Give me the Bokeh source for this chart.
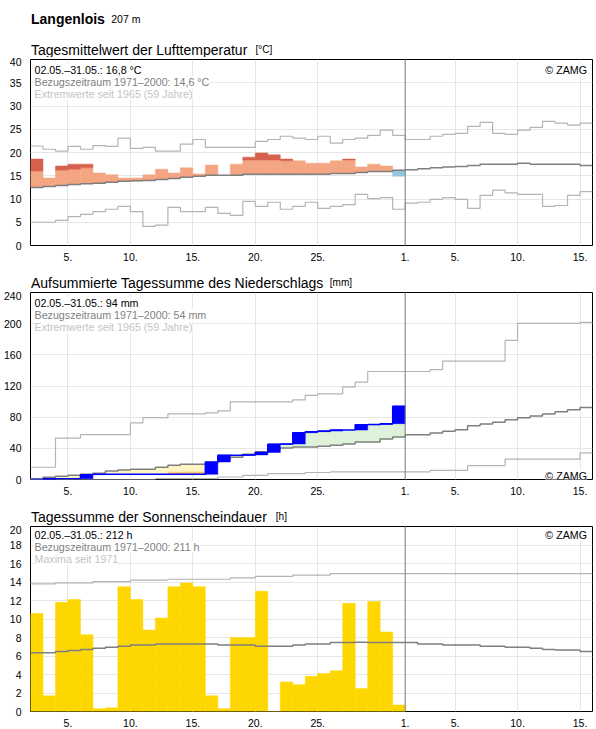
import numpy as np
from bokeh.plotting import figure
from bokeh.layouts import column
from bokeh.models import Range1d, FixedTicker, Span, Label
from bokeh.core.properties import value
from bokeh.embed import file_html
from bokeh.resources import INLINE

FONT = "Liberation Sans"
W = 596
LEFT, RIGHT = 30, 4

# ---------------------------------------------------------------------------
# Time axis: 2..31 = 2.-31. May, 32..46 = 1.-15. June (one unit per day)
# ---------------------------------------------------------------------------
days_may = list(range(2, 32))
days_all = list(range(2, 47))
x_ticks = [5, 10, 15, 20, 25, 32, 36, 41, 46]
x_tick_labels = ["5.", "10.", "15.", "20.", "25.", "1.", "5.", "10.", "15."]
month_break = 32

# --- air temperature, daily mean [°C] -------------------------------------
temp_obs = [18.6, 14.5, 17.1, 17.5, 17.5, 15.6, 15.2, 14.5, 14.5, 15.2,
            16.4, 15.6, 16.7, 15.4, 17.3, 15.1, 17.5, 19.0, 19.9, 19.5,
            18.6, 18.2, 17.7, 17.7, 18.2, 18.6, 16.9, 17.5, 17.1, 14.9]
temp_mean = [12.5, 12.7, 12.9, 13.1, 13.3, 13.4, 13.6, 13.8, 13.9, 14.0,
             14.2, 14.4, 14.7, 14.9, 15.1, 15.1, 15.1, 15.3, 15.3, 15.3,
             15.3, 15.3, 15.3, 15.3, 15.5, 15.5, 15.7, 15.9, 15.9, 16.2,
             16.3, 16.5, 16.7, 16.9, 17.0, 17.2, 17.5, 17.5, 17.5, 17.7,
             17.5, 17.5, 17.5, 17.5, 17.2]
temp_max = [21.4, 20.7, 20.3, 21.3, 20.7, 21.5, 21.3, 23.1, 20.9, 21.1,
            20.3, 20.3, 21.8, 22.8, 21.1, 21.1, 21.1, 21.1, 22.4, 22.8,
            23.5, 23.1, 22.8, 23.5, 22.0, 22.8, 23.1, 23.7, 24.8, 23.7,
            22.8, 22.8, 23.5, 23.9, 24.1, 25.6, 26.5, 24.1, 23.9, 24.8,
            25.4, 26.7, 26.3, 25.9, 26.3]
temp_min = [5.0, 5.0, 5.4, 6.2, 6.7, 7.3, 7.8, 8.4, 7.3, 4.1,
            4.4, 8.2, 7.3, 7.3, 8.2, 6.9, 6.5, 9.5, 8.4, 9.3,
            7.8, 8.4, 9.3, 8.0, 8.4, 8.8, 11.0, 10.1, 10.3, 7.8,
            9.1, 9.3, 9.9, 10.3, 9.9, 8.0, 10.8, 11.9, 11.3, 11.0,
            11.0, 8.4, 8.6, 10.8, 11.6]
# days warmer than the normal band, and the upper edge of that band
temp_warm_days = [2, 4, 5, 6, 19, 20, 21, 22, 27]
temp_warm_edge = [16.0, 16.2, 16.4, 16.7, 18.4, 18.4, 18.4, 18.2, 18.4]

# --- precipitation, accumulated [mm] --------------------------------------
precip_obs = [0.0, 1.0, 1.0, 1.0, 6.2, 6.6, 6.6, 6.6, 6.6, 6.6,
              6.6, 6.6, 6.6, 6.6, 22.5, 31.2, 31.2, 31.6, 34.7, 45.4,
              45.6, 60.1, 61.4, 62.2, 63.5, 63.5, 70.4, 70.6, 71.7, 94.0]
precip_mean = [1.0, 2.8, 4.1, 5.4, 6.7, 8.0, 11.0, 12.3, 13.1, 13.1,
               15.7, 18.3, 19.6, 19.6, 20.9, 26.0, 28.6, 32.5, 35.5, 38.1,
               40.3, 41.6, 41.6, 42.8, 44.1, 45.5, 48.0, 48.0, 51.9, 54.5,
               57.5, 57.5, 59.6, 61.8, 63.9, 69.1, 71.2, 73.4, 76.8, 79.4,
               81.6, 84.2, 86.8, 89.4, 92.4]
precip_max = [15.7, 15.7, 53.2, 53.2, 57.5, 57.5, 57.5, 57.5, 72.6, 79.4,
              79.4, 84.2, 84.2, 84.2, 85.5, 88.1, 99.7, 99.7, 99.7, 99.7,
              99.7, 102.3, 108.0, 110.0, 110.0, 118.8, 125.1, 138.6, 138.6, 138.6,
              138.6, 138.6, 141.0, 151.8, 151.8, 151.8, 151.8, 151.8, 178.5, 200.4,
              200.4, 200.4, 200.4, 200.4, 201.7]
precip_min = [0.0, 0.0, 0.0, 0.0, 0.0, 0.0, 0.0, 0.0, 0.0, 0.0,
              1.2, 1.2, 1.2, 1.2, 1.2, 3.2, 3.2, 5.4, 5.4, 7.5,
              7.5, 7.5, 9.0, 9.0, 9.7, 9.7, 9.7, 9.7, 9.7, 9.7,
              9.7, 9.7, 11.8, 11.8, 11.8, 17.8, 17.8, 17.8, 26.1, 26.1,
              26.1, 26.1, 26.1, 26.1, 34.2]
# days drier than the normal band, and the lower edge of that band
precip_dry_days = [13, 14, 15]
precip_dry_edge = [9.4, 9.6, 9.6]

# --- sunshine duration, daily total [h] -----------------------------------
sun_obs = [10.6, 1.7, 11.8, 12.1, 8.3, 0.3, 0.4, 13.5, 12.1, 8.8,
           10.1, 13.5, 13.9, 13.5, 1.7, 0.3, 8.0, 8.0, 13.0, 0.0,
           3.2, 2.9, 3.8, 4.1, 4.4, 11.7, 2.5, 11.9, 8.6, 0.7]
sun_mean = [6.35, 6.35, 6.5, 6.6, 6.7, 6.85, 6.95, 7.05, 7.2, 7.2,
            7.3, 7.3, 7.3, 7.3, 7.3, 7.2, 7.2, 7.2, 7.05, 7.05,
            7.05, 7.2, 7.3, 7.3, 7.45, 7.45, 7.5, 7.45, 7.45, 7.45,
            7.45, 7.3, 7.3, 7.2, 7.2, 7.2, 7.05, 7.05, 6.95, 6.95,
            6.85, 6.7, 6.65, 6.65, 6.5]
sun_max = [13.8, 13.8, 13.9, 13.9, 13.9, 14.05, 14.05, 14.05, 14.2, 14.2,
           14.2, 14.3, 14.3, 14.3, 14.3, 14.3, 14.45, 14.45, 14.6, 14.6,
           14.6, 14.75, 14.75, 14.75, 14.9, 14.9, 14.9, 14.9, 14.9, 14.9,
           14.9, 14.9, 14.9, 14.9, 14.9, 14.9, 14.9, 14.9, 14.9, 14.9,
           14.9, 14.9, 14.9, 14.9, 14.9]

# texts
station, altitude = "Langenlois", "207 m"
titles = [("Tagesmittelwert der Lufttemperatur", "[°C]"),
          ("Aufsummierte Tagessumme des Niederschlags", "[mm]"),
          ("Tagessumme der Sonnenscheindauer", "[h]")]
info_temp = ["02.05.\u201331.05.: 16,8 °C", "Bezugszeitraum 1971\u20132000: 14,6 °C",
             "Extremwerte seit 1965 (59 Jahre)"]
info_precip = ["02.05.\u201331.05.: 94 mm", "Bezugszeitraum 1971\u20132000: 54 mm",
               "Extremwerte seit 1965 (59 Jahre)"]
info_sun = ["02.05.\u201331.05.: 212 h", "Bezugszeitraum 1971\u20132000: 211 h",
            "Maxima seit 1971"]
credit = "© ZAMG"

# colours
C_MEAN = "#7f7f7f"
C_EXT = "#b4b4b4"
C_GRID = "#e6e6e6"
INFO_COLORS = ["#000000", "#808080", "#c4c4c4"]


def text_strip(height, items):
    """Axis-less strip for headings; x is in page pixels, y runs downward."""
    p = figure(width=W, height=height,
               x_range=Range1d(LEFT, W - RIGHT), y_range=Range1d(height, 0),
               x_axis_type=None, y_axis_type=None, toolbar_location=None,
               output_backend="svg", min_border_left=LEFT, min_border_right=RIGHT,
               min_border_top=0, min_border_bottom=0)
    p.outline_line_color = None
    p.xgrid.visible = False
    p.ygrid.visible = False
    for x, y, txt, size, style in items:
        p.text(x=[x], y=[y], text=[txt], text_font=value(FONT),
               text_font_size=value(size), text_font_style=style,
               text_color="#000000", text_baseline="alphabetic")
    return p


def panel(frame_h, top, bottom, y_end, y_ticks):
    p = figure(width=W, height=top + frame_h + bottom,
               x_range=Range1d(2, 47), y_range=Range1d(0, y_end),
               toolbar_location=None, output_backend="svg",
               min_border_left=LEFT, min_border_right=RIGHT,
               min_border_top=top, min_border_bottom=bottom)
    p.outline_line_color = "#000000"
    p.outline_line_width = 1
    p.xaxis.ticker = FixedTicker(ticks=x_ticks)
    p.xaxis.major_label_overrides = dict(zip(x_ticks, x_tick_labels))
    p.yaxis.ticker = FixedTicker(ticks=y_ticks)
    p.xgrid.ticker = FixedTicker(ticks=x_ticks)
    p.ygrid.ticker = FixedTicker(ticks=y_ticks)
    for ax in (p.xaxis, p.yaxis):
        ax.axis_line_color = None
        ax.major_tick_line_color = None
        ax.minor_tick_line_color = None
        ax.major_label_text_font = FONT
        ax.major_label_text_font_size = "10.5px"
        ax.major_label_text_color = "#000000"
    p.xaxis.major_label_standoff = 1
    p.yaxis.major_label_standoff = 3
    p.xgrid.grid_line_color = C_GRID
    p.ygrid.grid_line_color = C_GRID
    p.add_layout(Span(location=month_break, dimension="height",
                      line_color=C_MEAN, line_width=1))
    return p


def step_line(p, days, vals, color, width):
    xs = list(days) + [days[-1] + 1]
    ys = list(vals) + [vals[-1]]
    p.step(xs, ys, mode="after", line_color=color, line_width=width)


def info_block(p, frame_h, lines, credit_on_top=True):
    for i, (txt, col) in enumerate(zip(lines, INFO_COLORS)):
        p.add_layout(Label(x=4, y=frame_h - 10.0 - 12.3 * i, x_units="screen", y_units="screen",
                           text=txt, text_font=FONT, text_font_size="10.7px",
                           text_color=col, text_baseline="alphabetic",
                           background_fill_color="white"))
    cy = frame_h - 10.0 if credit_on_top else 3.5
    frame_w = W - LEFT - RIGHT
    p.add_layout(Label(x=frame_w - 5.5, y=cy, x_units="screen", y_units="screen",
                       text=credit, text_font=FONT, text_font_size="10.7px",
                       text_color="#000000", text_align="right",
                       text_baseline="alphabetic", background_fill_color="white"))


def bars(p, x, bottom, top, color):
    p.vbar(x=x, width=1, bottom=bottom, top=top, fill_color=color,
           line_color=color, line_width=0.5)


x_may = np.array(days_may) + 0.5

# ---------------------------------------------------------------------------
# Station header + temperature title
# ---------------------------------------------------------------------------
head = text_strip(57, [
    (30.5, 18.5, station, "14px", "bold"),
    (110.7, 18.5, altitude, "10.5px", "normal"),
    (30.5, 49.3, titles[0][0], "14px", "normal"),
    (255.0, 49.3, titles[0][1], "10px", "normal"),
])

# ---------------------------------------------------------------------------
# Temperature
# ---------------------------------------------------------------------------
FH1 = 186
p1 = panel(FH1, 2, 18, 40, list(range(0, 41, 5)))
t_obs = np.array(temp_obs)
t_mean = np.array(temp_mean[:len(days_may)])
edge = dict(zip(temp_warm_days, temp_warm_edge))
t_orange_top = np.array([min(o, edge.get(d, o)) for d, o in zip(days_may, temp_obs)])
warm = t_obs > t_mean
cold = t_obs < t_mean
bars(p1, x_may[warm], t_mean[warm], t_orange_top[warm], "#F4A582")
bars(p1, [d + 0.5 for d in temp_warm_days], temp_warm_edge,
     [temp_obs[days_may.index(d)] for d in temp_warm_days], "#D6604D")
bars(p1, x_may[cold], t_obs[cold], t_mean[cold], "#92C5DE")
step_line(p1, days_all, temp_max, C_EXT, 1.2)
step_line(p1, days_all, temp_min, C_EXT, 1.2)
step_line(p1, days_all, temp_mean, C_MEAN, 1.5)
info_block(p1, FH1, info_temp, credit_on_top=True)

# ---------------------------------------------------------------------------
# Precipitation
# ---------------------------------------------------------------------------
title2 = text_strip(28, [(30.5, 19.3, titles[1][0], "14px", "normal"),
                         (329.3, 19.3, titles[1][1], "10px", "normal")])
FH2 = 187
p2 = panel(FH2, 1, 18, 240, list(range(0, 241, 40)))
r_obs = np.array(precip_obs)
r_mean = np.array(precip_mean[:len(days_may)])
r_prev = np.concatenate([[0.0], r_obs[:-1]])
wet = r_obs > r_mean
dry = r_obs < r_mean
bars(p2, x_may[wet], r_mean[wet], r_obs[wet], "#DDF2D8")
bars(p2, x_may[dry], r_obs[dry], r_mean[dry], "#FFF5C2")
bars(p2, [d + 0.5 for d in precip_dry_days],
     [precip_obs[days_may.index(d)] for d in precip_dry_days],
     precip_dry_edge, "#FDC56E")
step_line(p2, days_all, precip_max, C_EXT, 1.2)
step_line(p2, days_all, precip_min, C_EXT, 1.2)
step_line(p2, days_all, precip_mean, C_MEAN, 1.5)
rain = (r_obs - r_prev) > 0.05
bars(p2, x_may[rain], r_prev[rain], r_obs[rain], "#0000FF")
step_line(p2, days_may, precip_obs, "#0000FF", 1.5)
info_block(p2, FH2, info_precip, credit_on_top=False)

# ---------------------------------------------------------------------------
# Sunshine
# ---------------------------------------------------------------------------
title3 = text_strip(28, [(30.5, 19.3, titles[2][0], "14px", "normal"),
                         (275.3, 19.3, titles[2][1], "10px", "normal")])
FH3 = 187
p3 = panel(FH3, 1, 16, 20, list(range(0, 21, 2)))
bars(p3, x_may, 0, sun_obs, "#FFD700")
step_line(p3, days_all, sun_max, C_EXT, 1.2)
step_line(p3, days_all, sun_mean, C_MEAN, 1.5)
info_block(p3, FH3, info_sun, credit_on_top=True)

layout = column(head, p1, title2, p2, title3, p3, spacing=0)
open("out.html", "w").write(file_html(layout, INLINE))
